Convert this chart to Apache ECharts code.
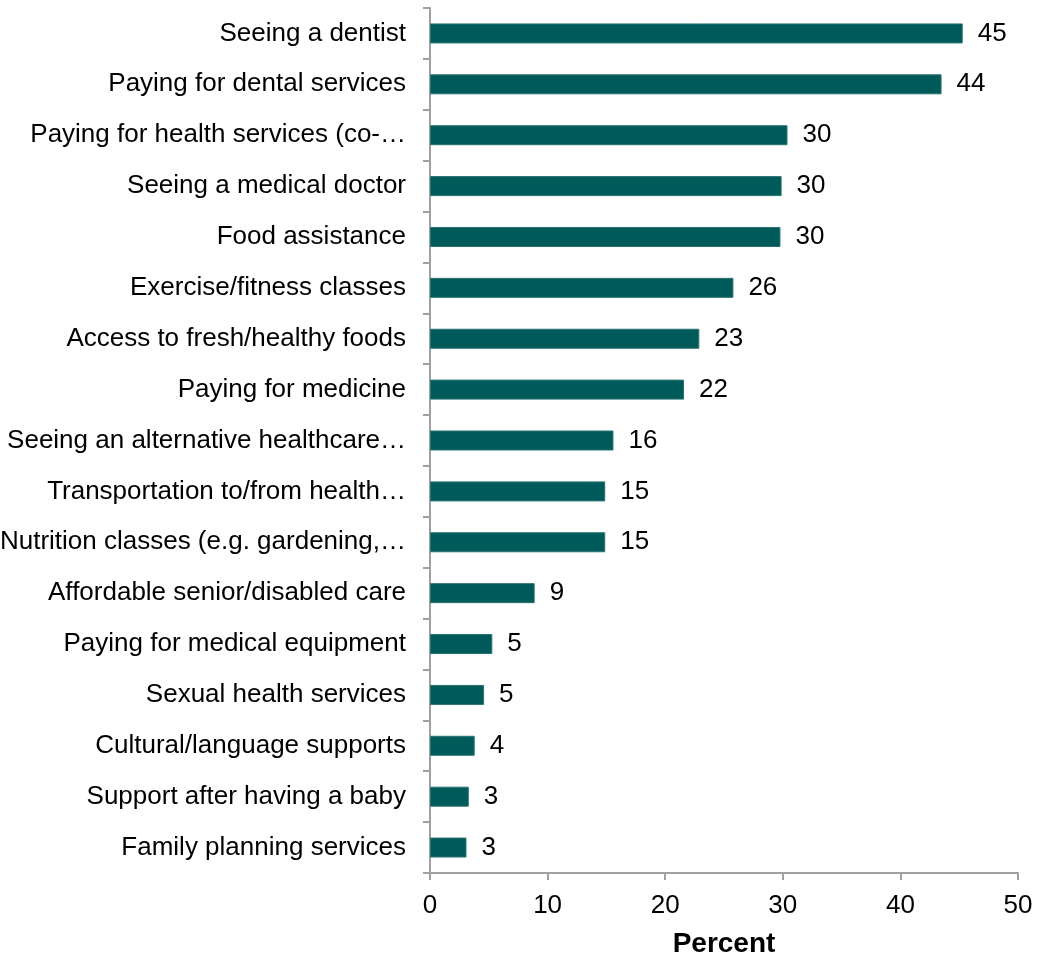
<!DOCTYPE html>
<html>
<head>
<meta charset="utf-8">
<script src="https://cdn.jsdelivr.net/npm/echarts@6/dist/echarts.min.js"></script>
<style>
html,body{margin:0;padding:0;background:#fff;}
#chart{width:1047px;height:958px;}
</style>
</head>
<body>
<div id="chart"></div>
<script>
const categories = [
  "Seeing a dentist",
  "Paying for dental services",
  "Paying for health services (co-…",
  "Seeing a medical doctor",
  "Food assistance",
  "Exercise/fitness classes",
  "Access to fresh/healthy foods",
  "Paying for medicine",
  "Seeing an alternative healthcare…",
  "Transportation to/from health…",
  "Nutrition classes (e.g. gardening,…",
  "Affordable senior/disabled care",
  "Paying for medical equipment",
  "Sexual health services",
  "Cultural/language supports",
  "Support after having a baby",
  "Family planning services"
];
const values = [45.3, 43.5, 30.4, 29.9, 29.8, 25.8, 22.9, 21.6, 15.6, 14.9, 14.9, 8.9, 5.3, 4.6, 3.8, 3.3, 3.1];
const xTicks = [0, 10, 20, 30, 40, 50];

const FONT = "'Liberation Sans', Arial, sans-serif";
const chart = echarts.init(document.getElementById('chart'));
chart.setOption({
  animation: false,
  grid: { left: 430, right: 29, top: 8, bottom: 85, containLabel: false, outerBoundsMode: 'none' },
  xAxis: {
    type: 'value', min: xTicks[0], max: xTicks[xTicks.length - 1], interval: 10,
    name: 'Percent', nameLocation: 'middle', nameGap: 57,
    nameTextStyle: { fontFamily: FONT, fontSize: 28, fontWeight: 'bold', color: '#000' },
    axisLine: { show: true, lineStyle: { color: '#a0a0a0', width: 2 } },
    axisTick: { show: true, length: 7, lineStyle: { color: '#a0a0a0', width: 2 } },
    axisLabel: { fontFamily: FONT, fontSize: 26, color: '#000', margin: 20 },
    splitLine: { show: false }
  },
  yAxis: {
    type: 'category', data: categories, inverse: true,
    axisLine: { show: true, lineStyle: { color: '#a0a0a0', width: 2 } },
    axisTick: { show: true, length: 7, lineStyle: { color: '#a0a0a0', width: 2 } },
    axisLabel: { fontFamily: FONT, fontSize: 26, color: '#000', margin: 24 }
  },
  series: [{
    type: 'bar', data: values, barWidth: 20,
    itemStyle: { color: '#005a5a', borderColor: '#2a7474', borderWidth: 1 },
    label: {
      show: true, position: 'right', distance: 15,
      fontFamily: FONT, fontSize: 26, color: '#000',
      formatter: p => Math.round(p.value)
    }
  }]
});
</script>
</body>
</html>
